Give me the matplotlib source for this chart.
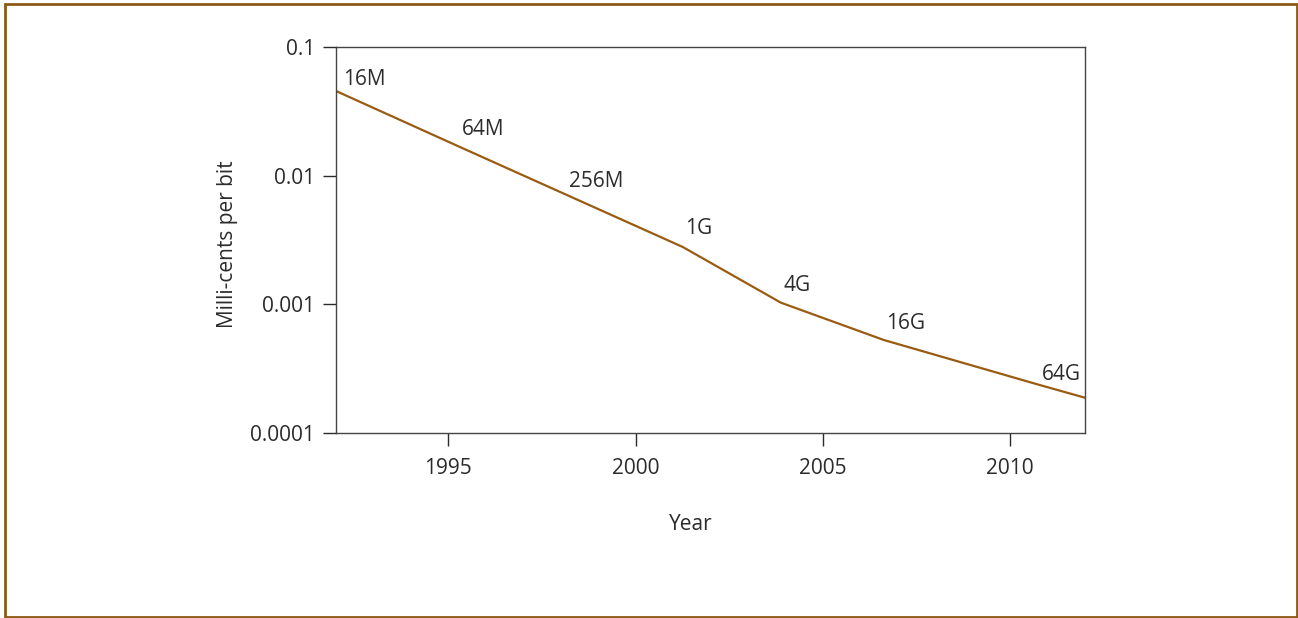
import matplotlib
matplotlib.use("Agg")
import matplotlib.pyplot as plt
from matplotlib.patches import Rectangle
from matplotlib.ticker import FixedLocator, FixedFormatter, NullLocator

# DRAM cost per bit by chip generation
years = [1992.0, 1995.29, 1998.13, 2001.26, 2003.88, 2006.63, 2010.77, 2012.0]
cost = [0.0455, 0.0168, 0.00715, 0.00279, 0.00103, 0.000528, 0.000237, 0.000188]
chip_labels = ["16M", "64M", "256M", "1G", "4G", "16G", "64G", None]
label_dx = [7, 3, 3, 2, 3, 2, 3, 0]      # pixels right of the point
label_lift = [6, 12, 7, 13, 12, 11, 5, 0]  # baseline pixels above the point

x_ticks = [1995, 2000, 2005, 2010]
y_ticks = [0.0001, 0.001, 0.01, 0.1]
y_tick_labels = ["0.0001", "0.001", "0.01", "0.1"]

LINE = "#9a5b12"
FRAME = "#8c5a16"
INK = "#2b2b2b"
FS = 15

plt.rcParams["font.family"] = ["Open Sans", "DejaVu Sans"]
plt.rcParams["font.size"] = FS

fig = plt.figure(figsize=(12.98, 6.18), dpi=100)
ax = fig.add_axes([336 / 1298, 1 - 433 / 618, (1085 - 336) / 1298, (433 - 47) / 618])

ax.plot(years, cost, color=LINE, lw=1.6, solid_joinstyle="miter")
for x, y, lab, dx, lift in zip(years, cost, chip_labels, label_dx, label_lift):
    if lab is None:
        continue
    ax.annotate(lab, (x, y), xytext=(dx, lift), textcoords="offset pixels",
                ha="left", va="baseline", color=INK)

ax.set_yscale("log")
ax.set_xlim(1992, 2012)
ax.set_ylim(0.0001, 0.1)
ax.xaxis.set_major_locator(FixedLocator(x_ticks))
ax.yaxis.set_major_locator(FixedLocator(y_ticks))
ax.yaxis.set_major_formatter(FixedFormatter(y_tick_labels))
ax.yaxis.set_minor_locator(NullLocator())
ax.xaxis.set_minor_locator(NullLocator())
ax.tick_params(direction="out", length=9.5, width=1.0, color=INK, labelcolor=INK)
ax.tick_params(axis="y", pad=5.5)
ax.tick_params(axis="x", pad=8.5)
for s in ax.spines.values():
    s.set_color("#444444")
    s.set_linewidth(1.0)

fig.text(228 / 1298, 1 - 244 / 618, "Milli-cents per bit", rotation=90,
         ha="center", va="center", color=INK)
fig.text(691 / 1298, 1 - 524 / 618, "Year", ha="center", va="center", color=INK)

# outer frame
fig.patches.append(Rectangle((4.5 / 1298, 1.5 / 618), 1292 / 1298, 612.5 / 618,
                             transform=fig.transFigure, fill=False,
                             edgecolor=FRAME, lw=2.0))

fig.savefig("out.png", dpi=100)
